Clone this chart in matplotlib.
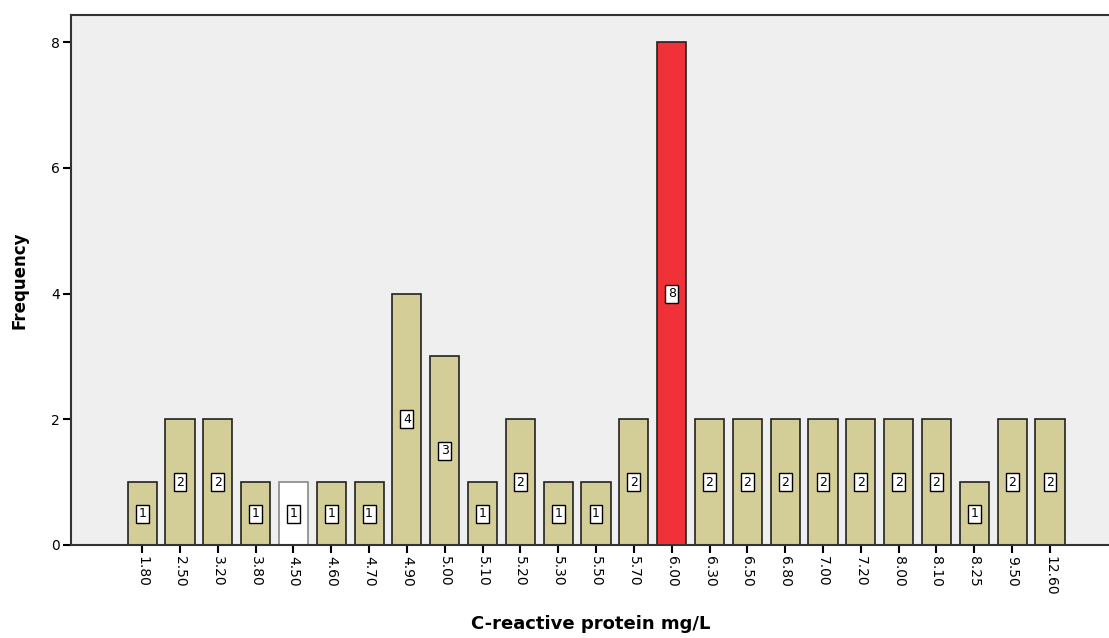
import matplotlib
matplotlib.use("Agg")
import matplotlib.pyplot as plt

categories = ["1.80", "2.50", "3.20", "3.80", "4.50", "4.60", "4.70", "4.90", "5.00",
              "5.10", "5.20", "5.30", "5.50", "5.70", "6.00", "6.30", "6.50", "6.80",
              "7.00", "7.20", "8.00", "8.10", "8.25", "9.50", "12.60"]
frequency = [1, 2, 2, 1, 1, 1, 1, 4, 3, 1, 2, 1, 1, 2, 8, 2, 2, 2, 2, 2, 2, 2, 1, 2, 2]

tan = "#D3CE97"
colors = [tan] * len(categories)
colors[categories.index("4.50")] = "#FFFFFF"
colors[categories.index("6.00")] = "#F03238"

fig = plt.figure(figsize=(11.09, 6.38), dpi=100)
ax = fig.add_axes([71/1109, 93/638, 1.0 - 71/1109 + 0.002, 530/638])
ax.set_facecolor("#EFEFEF")

x = list(range(len(categories)))
bars = ax.bar(x, frequency, width=0.77, color=colors, edgecolor="#222222", linewidth=1.2, zorder=2)
for b, c in zip(bars, colors):
    if c == "#FFFFFF":
        b.set_edgecolor("#888888")

for xi, v in zip(x, frequency):
    ax.text(xi, v / 2, str(v), ha="center", va="center", fontsize=9,
            color="black", zorder=3,
            bbox=dict(boxstyle="square,pad=0.2", facecolor="white", edgecolor="black", linewidth=1.0))

ax.set_xlim(-1.88, 25.62)
ax.set_ylim(0, 8.43)
ax.set_yticks([0, 2, 4, 6, 8])
ax.set_xticks(x)
ax.set_xticklabels(categories, rotation=270, fontsize=10)
ax.tick_params(axis="y", labelsize=10, length=6, width=1.5, direction="out", pad=2)
ax.tick_params(axis="x", length=6, width=1.5, direction="out", pad=2)

for s in ["left", "bottom", "top"]:
    ax.spines[s].set_linewidth(1.5)
    ax.spines[s].set_color("#333333")
ax.spines["right"].set_visible(False)

ax.set_ylabel("Frequency", fontsize=12, fontweight="bold", labelpad=16)
ax.set_xlabel("C-reactive protein mg/L", fontsize=13, fontweight="bold", labelpad=14)

fig.savefig("out.png", dpi=100, facecolor="white")
